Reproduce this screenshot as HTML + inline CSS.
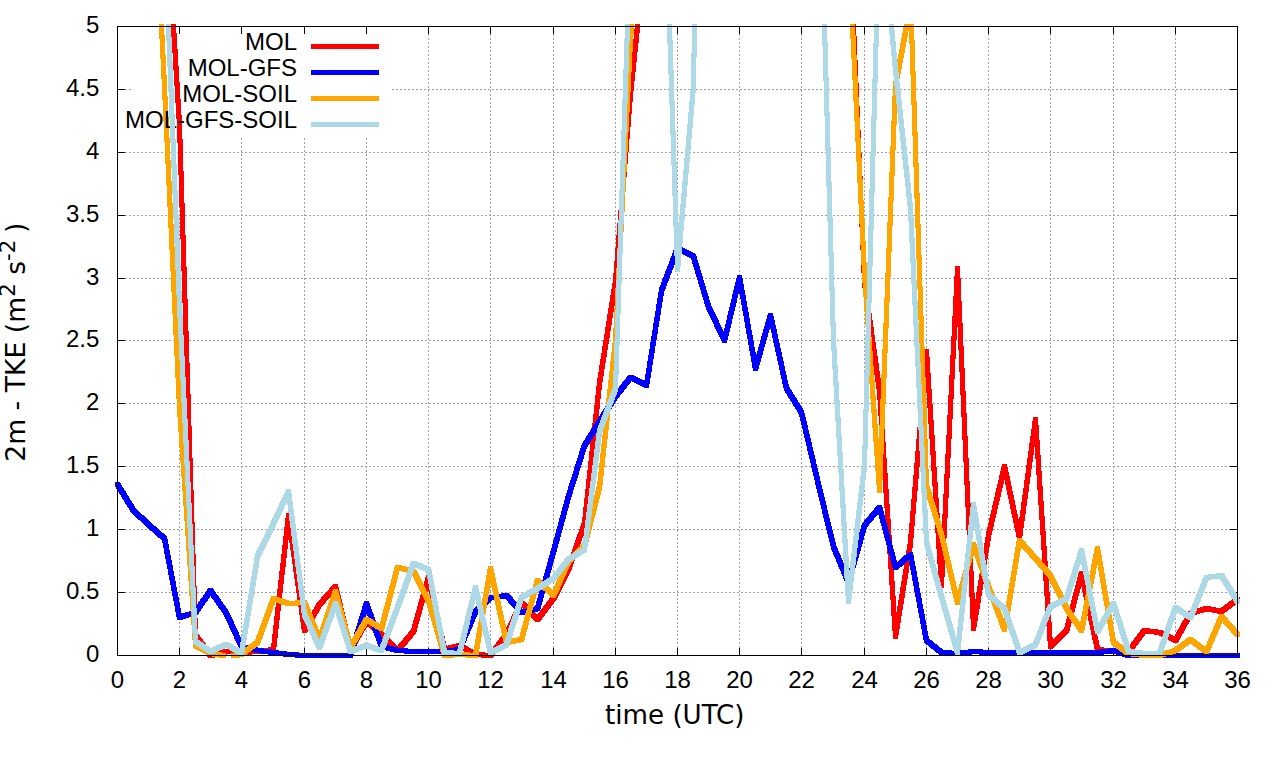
<!DOCTYPE html><html><head><meta charset="utf-8"><title>2m TKE</title>
<style>html,body{margin:0;padding:0;background:#fff}svg{display:block}body{font-family:"Liberation Sans",sans-serif}</style></head><body>
<svg width="1280" height="760" viewBox="0 0 1280 760">
<rect width="1280" height="760" fill="#fff"/>
<g stroke="#a0a0a0" stroke-width="1" stroke-dasharray="2 2" shape-rendering="crispEdges" fill="none">
<path d="M117 592.5H1238"/>
<path d="M117 529.5H1238"/>
<path d="M117 466.5H1238"/>
<path d="M117 403.5H1238"/>
<path d="M117 340.5H1238"/>
<path d="M117 278.5H1238"/>
<path d="M117 215.5H1238"/>
<path d="M117 152.5H1238"/>
<path d="M117 89.5H131"/>
<path d="M392 89.5H1238"/>
<path d="M179.5 656V138"/>
<path d="M241.5 656V138"/>
<path d="M304.5 656V138"/>
<path d="M366.5 656V138"/>
<path d="M428.5 656V26"/>
<path d="M490.5 656V26"/>
<path d="M553.5 656V26"/>
<path d="M615.5 656V26"/>
<path d="M677.5 656V26"/>
<path d="M739.5 656V26"/>
<path d="M801.5 656V26"/>
<path d="M864.5 656V26"/>
<path d="M926.5 656V26"/>
<path d="M988.5 656V26"/>
<path d="M1050.5 656V26"/>
<path d="M1113.5 656V26"/>
<path d="M1175.5 656V26"/>
</g>
<g fill="#000" shape-rendering="crispEdges">
<rect x="117" y="648" width="1" height="8"/>
<rect x="117" y="26" width="1" height="8"/>
<rect x="179" y="648" width="1" height="8"/>
<rect x="179" y="26" width="1" height="8"/>
<rect x="241" y="648" width="1" height="8"/>
<rect x="241" y="26" width="1" height="8"/>
<rect x="304" y="648" width="1" height="8"/>
<rect x="304" y="26" width="1" height="8"/>
<rect x="366" y="648" width="1" height="8"/>
<rect x="366" y="26" width="1" height="8"/>
<rect x="428" y="648" width="1" height="8"/>
<rect x="428" y="26" width="1" height="8"/>
<rect x="490" y="648" width="1" height="8"/>
<rect x="490" y="26" width="1" height="8"/>
<rect x="553" y="648" width="1" height="8"/>
<rect x="553" y="26" width="1" height="8"/>
<rect x="615" y="648" width="1" height="8"/>
<rect x="615" y="26" width="1" height="8"/>
<rect x="677" y="648" width="1" height="8"/>
<rect x="677" y="26" width="1" height="8"/>
<rect x="739" y="648" width="1" height="8"/>
<rect x="739" y="26" width="1" height="8"/>
<rect x="801" y="648" width="1" height="8"/>
<rect x="801" y="26" width="1" height="8"/>
<rect x="864" y="648" width="1" height="8"/>
<rect x="864" y="26" width="1" height="8"/>
<rect x="926" y="648" width="1" height="8"/>
<rect x="926" y="26" width="1" height="8"/>
<rect x="988" y="648" width="1" height="8"/>
<rect x="988" y="26" width="1" height="8"/>
<rect x="1050" y="648" width="1" height="8"/>
<rect x="1050" y="26" width="1" height="8"/>
<rect x="1113" y="648" width="1" height="8"/>
<rect x="1113" y="26" width="1" height="8"/>
<rect x="1175" y="648" width="1" height="8"/>
<rect x="1175" y="26" width="1" height="8"/>
<rect x="1237" y="648" width="1" height="8"/>
<rect x="1237" y="26" width="1" height="8"/>
<rect x="117" y="655" width="8" height="1"/>
<rect x="1230" y="655" width="8" height="1"/>
<rect x="117" y="592" width="8" height="1"/>
<rect x="1230" y="592" width="8" height="1"/>
<rect x="117" y="529" width="8" height="1"/>
<rect x="1230" y="529" width="8" height="1"/>
<rect x="117" y="466" width="8" height="1"/>
<rect x="1230" y="466" width="8" height="1"/>
<rect x="117" y="403" width="8" height="1"/>
<rect x="1230" y="403" width="8" height="1"/>
<rect x="117" y="340" width="8" height="1"/>
<rect x="1230" y="340" width="8" height="1"/>
<rect x="117" y="278" width="8" height="1"/>
<rect x="1230" y="278" width="8" height="1"/>
<rect x="117" y="215" width="8" height="1"/>
<rect x="1230" y="215" width="8" height="1"/>
<rect x="117" y="152" width="8" height="1"/>
<rect x="1230" y="152" width="8" height="1"/>
<rect x="117" y="89" width="8" height="1"/>
<rect x="1230" y="89" width="8" height="1"/>
<rect x="117" y="26" width="8" height="1"/>
<rect x="1230" y="26" width="8" height="1"/>
</g>
<text x="297" y="50" font-family="'Liberation Sans', sans-serif" font-size="24" fill="#000" text-anchor="end">MOL</text>
<path d="M171 24.5L176 24.5L182 123.5L182 127.5L177 127.5L171 28.5ZM177 123.5L182 123.5L198 633.5L198 637.5L193 637.5L177 127.5ZM193 633.5L198 633.5L213 653.5L213 657.5L208 657.5L193 637.5ZM208.5 653L224.5 649L228.5 649L228.5 654L212.5 658L208.5 658ZM224.5 649L228.5 649L243.5 650L243.5 655L239.5 655L224.5 654ZM239.5 650L255.5 649L259.5 649L259.5 654L243.5 655L239.5 655ZM255.5 649L271.5 647L275.5 647L275.5 652L259.5 654L255.5 654ZM271 647.5L286 513.5L291 513.5L291 517.5L276 651.5L271 651.5ZM286 513.5L291 513.5L307 628.5L307 632.5L302 632.5L286 517.5ZM302 628.5L317 602.5L322 602.5L322 606.5L307 632.5L302 632.5ZM317 602.5L333 584.5L338 584.5L338 588.5L322 606.5L317 606.5ZM333 584.5L338 584.5L353 647.5L353 651.5L348 651.5L333 588.5ZM348 647.5L364 619.5L369 619.5L369 623.5L353 651.5L348 651.5ZM364.5 619L368.5 619L383.5 632L383.5 637L379.5 637L364.5 624ZM379.5 632L383.5 632L399.5 648L399.5 653L395.5 653L379.5 637ZM395 648.5L411 629.5L416 629.5L416 633.5L400 652.5L395 652.5ZM411 629.5L426 575.5L431 575.5L431 579.5L416 633.5L411 633.5ZM426 575.5L431 575.5L447 647.5L447 651.5L442 651.5L426 579.5ZM442.5 647L457.5 643L461.5 643L461.5 648L446.5 652L442.5 652ZM457.5 643L461.5 643L477.5 652L477.5 657L473.5 657L457.5 648ZM473.5 652L477.5 652L492.5 653L492.5 658L488.5 658L473.5 657ZM488 653.5L504 632.5L509 632.5L509 636.5L493 657.5L488 657.5ZM504 632.5L519 600.5L524 600.5L524 604.5L509 636.5L504 636.5ZM519 600.5L524 600.5L540 617.5L540 621.5L535 621.5L519 604.5ZM535 617.5L551 596.5L556 596.5L556 600.5L540 621.5L535 621.5ZM551 596.5L566 567.5L571 567.5L571 571.5L556 600.5L551 600.5ZM566 567.5L582 521.5L587 521.5L587 525.5L571 571.5L566 571.5ZM582 521.5L597 381.5L602 381.5L602 385.5L587 525.5L582 525.5ZM597 381.5L613 279.5L618 279.5L618 283.5L602 385.5L597 385.5ZM613 279.5L628 91.5L633 91.5L633 95.5L618 283.5L613 283.5ZM628 91.5L635 24.5L640 24.5L640 28.5L633 95.5L628 95.5ZM851 24.5L856 24.5L867 280.5L867 284.5L862 284.5L851 28.5ZM862 280.5L867 280.5L882 388.5L882 392.5L877 392.5L862 284.5ZM877 388.5L882 388.5L898 634.5L898 638.5L893 638.5L877 392.5ZM893 634.5L908 540.5L913 540.5L913 544.5L898 638.5L893 638.5ZM908 540.5L924 349.5L929 349.5L929 353.5L913 544.5L908 544.5ZM924 349.5L929 349.5L944 583.5L944 587.5L939 587.5L924 353.5ZM939 583.5L955 266.5L960 266.5L960 270.5L944 587.5L939 587.5ZM955 266.5L960 266.5L976 626.5L976 630.5L971 630.5L955 270.5ZM971 626.5L986 533.5L991 533.5L991 537.5L976 630.5L971 630.5ZM986 533.5L1002 464.5L1007 464.5L1007 468.5L991 537.5L986 537.5ZM1002 464.5L1007 464.5L1022 535.5L1022 539.5L1017 539.5L1002 468.5ZM1017 535.5L1033 417.5L1038 417.5L1038 421.5L1022 539.5L1017 539.5ZM1033 417.5L1038 417.5L1053 644.5L1053 648.5L1048 648.5L1033 421.5ZM1048.5 644L1064.5 628L1068.5 628L1068.5 633L1052.5 649L1048.5 649ZM1064 628.5L1079 571.5L1084 571.5L1084 575.5L1069 632.5L1064 632.5ZM1079 571.5L1084 571.5L1100 647.5L1100 651.5L1095 651.5L1079 575.5ZM1095.5 647L1099.5 647L1115.5 649L1115.5 654L1111.5 654L1095.5 652ZM1111.5 649L1130.5 649L1130.5 654L1111.5 654ZM1126 649.5L1142 628.5L1147 628.5L1147 632.5L1131 653.5L1126 653.5ZM1142.5 628L1146.5 628L1161.5 630L1161.5 635L1157.5 635L1142.5 633ZM1157.5 630L1161.5 630L1177.5 638L1177.5 643L1173.5 643L1157.5 635ZM1173 638.5L1188 611.5L1193 611.5L1193 615.5L1178 642.5L1173 642.5ZM1188.5 611L1204.5 606L1208.5 606L1208.5 611L1192.5 616L1188.5 616ZM1204.5 606L1208.5 606L1223.5 609L1223.5 614L1219.5 614L1204.5 611ZM1219.5 609L1235.5 597L1239.5 597L1239.5 602L1223.5 614L1219.5 614ZM171 24h5v5h-5zM177 123h5v5h-5zM193 633h5v5h-5zM208 653h5v5h-5zM224 649h5v5h-5zM239 650h5v5h-5zM255 649h5v5h-5zM271 647h5v5h-5zM286 513h5v5h-5zM302 628h5v5h-5zM317 602h5v5h-5zM333 584h5v5h-5zM348 647h5v5h-5zM364 619h5v5h-5zM379 632h5v5h-5zM395 648h5v5h-5zM411 629h5v5h-5zM426 575h5v5h-5zM442 647h5v5h-5zM457 643h5v5h-5zM473 652h5v5h-5zM488 653h5v5h-5zM504 632h5v5h-5zM519 600h5v5h-5zM535 617h5v5h-5zM551 596h5v5h-5zM566 567h5v5h-5zM582 521h5v5h-5zM597 381h5v5h-5zM613 279h5v5h-5zM628 91h5v5h-5zM635 24h5v5h-5zM851 24h5v5h-5zM862 280h5v5h-5zM877 388h5v5h-5zM893 634h5v5h-5zM908 540h5v5h-5zM924 349h5v5h-5zM939 583h5v5h-5zM955 266h5v5h-5zM971 626h5v5h-5zM986 533h5v5h-5zM1002 464h5v5h-5zM1017 535h5v5h-5zM1033 417h5v5h-5zM1048 644h5v5h-5zM1064 628h5v5h-5zM1079 571h5v5h-5zM1095 647h5v5h-5zM1111 649h5v5h-5zM1126 649h5v5h-5zM1142 628h5v5h-5zM1157 630h5v5h-5zM1173 638h5v5h-5zM1188 611h5v5h-5zM1204 606h5v5h-5zM1219 609h5v5h-5zM1235 597h5v5h-5z" fill="#ff0000" fill-rule="nonzero" shape-rendering="crispEdges"/>
<rect x="311" y="44" width="68" height="5" fill="#ff0000" shape-rendering="crispEdges"/>
<text x="297" y="76" font-family="'Liberation Sans', sans-serif" font-size="24" fill="#000" text-anchor="end">MOL-GFS</text>
<path d="M115 482.5L120 482.5L136 508.5L136 512.5L131 512.5L115 486.5ZM131.5 508L135.5 508L150.5 522L150.5 527L146.5 527L131.5 513ZM146.5 522L150.5 522L166.5 536L166.5 541L162.5 541L146.5 527ZM162 536.5L167 536.5L182 615.5L182 619.5L177 619.5L162 540.5ZM177.5 615L193.5 610L197.5 610L197.5 615L181.5 620L177.5 620ZM193 610.5L208 588.5L213 588.5L213 592.5L198 614.5L193 614.5ZM208 588.5L213 588.5L229 611.5L229 615.5L224 615.5L208 592.5ZM224 611.5L229 611.5L244 644.5L244 648.5L239 648.5L224 615.5ZM239.5 644L243.5 644L259.5 648L259.5 653L255.5 653L239.5 649ZM255.5 648L259.5 648L275.5 650L275.5 655L271.5 655L255.5 653ZM271.5 650L275.5 650L290.5 652L290.5 657L286.5 657L271.5 655ZM286.5 652L290.5 652L306.5 653L306.5 658L302.5 658L286.5 657ZM302.5 653L321.5 653L321.5 658L302.5 658ZM317.5 653L337.5 653L337.5 658L317.5 658ZM333.5 653L352.5 653L352.5 658L333.5 658ZM348 653.5L364 601.5L369 601.5L369 605.5L353 657.5L348 657.5ZM364 601.5L369 601.5L384 644.5L384 648.5L379 648.5L364 605.5ZM379.5 644L383.5 644L399.5 648L399.5 653L395.5 653L379.5 649ZM395.5 648L399.5 648L415.5 649L415.5 654L411.5 654L395.5 653ZM411.5 649L430.5 649L430.5 654L411.5 654ZM426.5 649L446.5 649L446.5 654L426.5 654ZM442.5 649L457.5 647L461.5 647L461.5 652L446.5 654L442.5 654ZM457 647.5L473 609.5L478 609.5L478 613.5L462 651.5L457 651.5ZM473.5 609L488.5 595L492.5 595L492.5 600L477.5 614L473.5 614ZM488.5 595L504.5 593L508.5 593L508.5 598L492.5 600L488.5 600ZM504 593.5L509 593.5L524 610.5L524 614.5L519 614.5L504 597.5ZM519.5 610L535.5 606L539.5 606L539.5 611L523.5 615L519.5 615ZM535 606.5L551 549.5L556 549.5L556 553.5L540 610.5L535 610.5ZM551 549.5L566 494.5L571 494.5L571 498.5L556 553.5L551 553.5ZM566 494.5L582 443.5L587 443.5L587 447.5L571 498.5L566 498.5ZM582 443.5L597 419.5L602 419.5L602 423.5L587 447.5L582 447.5ZM597 419.5L613 394.5L618 394.5L618 398.5L602 423.5L597 423.5ZM613 394.5L628 375.5L633 375.5L633 379.5L618 398.5L613 398.5ZM628.5 375L632.5 375L648.5 383L648.5 388L644.5 388L628.5 380ZM644 383.5L659 288.5L664 288.5L664 292.5L649 387.5L644 387.5ZM659 288.5L675 246.5L680 246.5L680 250.5L664 292.5L659 292.5ZM675.5 246L679.5 246L695.5 254L695.5 259L691.5 259L675.5 251ZM691 254.5L696 254.5L711 304.5L711 308.5L706 308.5L691 258.5ZM706 304.5L711 304.5L727 338.5L727 342.5L722 342.5L706 308.5ZM722 338.5L737 275.5L742 275.5L742 279.5L727 342.5L722 342.5ZM737 275.5L742 275.5L758 366.5L758 370.5L753 370.5L737 279.5ZM753 366.5L768 313.5L773 313.5L773 317.5L758 370.5L753 370.5ZM768 313.5L773 313.5L789 386.5L789 390.5L784 390.5L768 317.5ZM784 386.5L789 386.5L804 410.5L804 414.5L799 414.5L784 390.5ZM799 410.5L804 410.5L820 478.5L820 482.5L815 482.5L799 414.5ZM815 478.5L820 478.5L836 544.5L836 548.5L831 548.5L815 482.5ZM831 544.5L836 544.5L851 580.5L851 584.5L846 584.5L831 548.5ZM846 580.5L862 523.5L867 523.5L867 527.5L851 584.5L846 584.5ZM862 523.5L877 505.5L882 505.5L882 509.5L867 527.5L862 527.5ZM877 505.5L882 505.5L898 565.5L898 569.5L893 569.5L877 509.5ZM893.5 565L908.5 552L912.5 552L912.5 557L897.5 570L893.5 570ZM908 552.5L913 552.5L929 638.5L929 642.5L924 642.5L908 556.5ZM924.5 638L928.5 638L943.5 650L943.5 655L939.5 655L924.5 643ZM939.5 650L943.5 650L959.5 651L959.5 656L955.5 656L939.5 655ZM955.5 651L971.5 649L975.5 649L975.5 654L959.5 656L955.5 656ZM971.5 649L975.5 649L990.5 650L990.5 655L986.5 655L971.5 654ZM986.5 650L1006.5 650L1006.5 655L986.5 655ZM1002.5 650L1021.5 650L1021.5 655L1002.5 655ZM1017.5 650L1037.5 650L1037.5 655L1017.5 655ZM1033.5 650L1052.5 650L1052.5 655L1033.5 655ZM1048.5 650L1068.5 650L1068.5 655L1048.5 655ZM1064.5 650L1083.5 650L1083.5 655L1064.5 655ZM1079.5 650L1099.5 650L1099.5 655L1079.5 655ZM1095.5 650L1111.5 648L1115.5 648L1115.5 653L1099.5 655L1095.5 655ZM1111.5 648L1115.5 648L1130.5 653L1130.5 658L1126.5 658L1111.5 653ZM1126.5 653L1146.5 653L1146.5 658L1126.5 658ZM1142.5 653L1161.5 653L1161.5 658L1142.5 658ZM1157.5 653L1177.5 653L1177.5 658L1157.5 658ZM1173.5 653L1192.5 653L1192.5 658L1173.5 658ZM1188.5 653L1208.5 653L1208.5 658L1188.5 658ZM1204.5 653L1223.5 653L1223.5 658L1204.5 658ZM1219.5 653L1239.5 653L1239.5 658L1219.5 658ZM115 482h5v5h-5zM131 508h5v5h-5zM146 522h5v5h-5zM162 536h5v5h-5zM177 615h5v5h-5zM193 610h5v5h-5zM208 588h5v5h-5zM224 611h5v5h-5zM239 644h5v5h-5zM255 648h5v5h-5zM271 650h5v5h-5zM286 652h5v5h-5zM302 653h5v5h-5zM317 653h5v5h-5zM333 653h5v5h-5zM348 653h5v5h-5zM364 601h5v5h-5zM379 644h5v5h-5zM395 648h5v5h-5zM411 649h5v5h-5zM426 649h5v5h-5zM442 649h5v5h-5zM457 647h5v5h-5zM473 609h5v5h-5zM488 595h5v5h-5zM504 593h5v5h-5zM519 610h5v5h-5zM535 606h5v5h-5zM551 549h5v5h-5zM566 494h5v5h-5zM582 443h5v5h-5zM597 419h5v5h-5zM613 394h5v5h-5zM628 375h5v5h-5zM644 383h5v5h-5zM659 288h5v5h-5zM675 246h5v5h-5zM691 254h5v5h-5zM706 304h5v5h-5zM722 338h5v5h-5zM737 275h5v5h-5zM753 366h5v5h-5zM768 313h5v5h-5zM784 386h5v5h-5zM799 410h5v5h-5zM815 478h5v5h-5zM831 544h5v5h-5zM846 580h5v5h-5zM862 523h5v5h-5zM877 505h5v5h-5zM893 565h5v5h-5zM908 552h5v5h-5zM924 638h5v5h-5zM939 650h5v5h-5zM955 651h5v5h-5zM971 649h5v5h-5zM986 650h5v5h-5zM1002 650h5v5h-5zM1017 650h5v5h-5zM1033 650h5v5h-5zM1048 650h5v5h-5zM1064 650h5v5h-5zM1079 650h5v5h-5zM1095 650h5v5h-5zM1111 648h5v5h-5zM1126 653h5v5h-5zM1142 653h5v5h-5zM1157 653h5v5h-5zM1173 653h5v5h-5zM1188 653h5v5h-5zM1204 653h5v5h-5zM1219 653h5v5h-5zM1235 653h5v5h-5z" fill="#0000ff" fill-rule="nonzero" shape-rendering="crispEdges"/>
<rect x="311" y="70" width="68" height="5" fill="#0000ff" shape-rendering="crispEdges"/>
<text x="297" y="102" font-family="'Liberation Sans', sans-serif" font-size="24" fill="#000" text-anchor="end">MOL-SOIL</text>
<path d="M159 24.5L164 24.5L167 84.5L167 88.5L162 88.5L159 28.5ZM162 84.5L167 84.5L182 405.5L182 409.5L177 409.5L162 88.5ZM177 405.5L182 405.5L198 643.5L198 647.5L193 647.5L177 409.5ZM193.5 643L197.5 643L212.5 651L212.5 656L208.5 656L193.5 648ZM208.5 651L212.5 651L225.5 653L225.5 658L221.5 658L208.5 656ZM231.5 653L239.5 652L243.5 652L243.5 657L235.5 658L231.5 658ZM239.5 652L255.5 640L259.5 640L259.5 645L243.5 657L239.5 657ZM255 640.5L271 596.5L276 596.5L276 600.5L260 644.5L255 644.5ZM271.5 596L275.5 596L290.5 601L290.5 606L286.5 606L271.5 601ZM286.5 601L302.5 600L306.5 600L306.5 605L290.5 606L286.5 606ZM302 600.5L307 600.5L322 637.5L322 641.5L317 641.5L302 604.5ZM317 637.5L333 589.5L338 589.5L338 593.5L322 641.5L317 641.5ZM333 589.5L338 589.5L353 645.5L353 649.5L348 649.5L333 593.5ZM348 645.5L364 617.5L369 617.5L369 621.5L353 649.5L348 649.5ZM364.5 617L368.5 617L383.5 626L383.5 631L379.5 631L364.5 622ZM379 626.5L395 565.5L400 565.5L400 569.5L384 630.5L379 630.5ZM395.5 565L399.5 565L415.5 569L415.5 574L411.5 574L395.5 570ZM411 569.5L416 569.5L431 598.5L431 602.5L426 602.5L411 573.5ZM426 598.5L431 598.5L447 653.5L447 657.5L442 657.5L426 602.5ZM442.5 653L457.5 652L461.5 652L461.5 657L446.5 658L442.5 658ZM457.5 652L461.5 652L477.5 653L477.5 658L473.5 658L457.5 657ZM473 653.5L488 566.5L493 566.5L493 570.5L478 657.5L473 657.5ZM488 566.5L493 566.5L509 640.5L509 644.5L504 644.5L488 570.5ZM504.5 640L519.5 637L523.5 637L523.5 642L508.5 645L504.5 645ZM519 637.5L535 578.5L540 578.5L540 582.5L524 641.5L519 641.5ZM535.5 578L539.5 578L555.5 593L555.5 598L551.5 598L535.5 583ZM551 593.5L566 559.5L571 559.5L571 563.5L556 597.5L551 597.5ZM566.5 559L582.5 543L586.5 543L586.5 548L570.5 564L566.5 564ZM582 543.5L597 485.5L602 485.5L602 489.5L587 547.5L582 547.5ZM597 485.5L613 338.5L618 338.5L618 342.5L602 489.5L597 489.5ZM613 338.5L628 38.5L633 38.5L633 42.5L618 342.5L613 342.5ZM628 38.5L629 24.5L634 24.5L634 28.5L633 42.5L628 42.5ZM850 24.5L855 24.5L867 271.5L867 275.5L862 275.5L850 28.5ZM862 271.5L867 271.5L882 488.5L882 492.5L877 492.5L862 275.5ZM877 488.5L893 83.5L898 83.5L898 87.5L882 492.5L877 492.5ZM893 83.5L904 24.5L909 24.5L909 28.5L898 87.5L893 87.5ZM909 24.5L914 24.5L929 484.5L929 488.5L924 488.5L909 28.5ZM924 484.5L929 484.5L944 532.5L944 536.5L939 536.5L924 488.5ZM939 532.5L944 532.5L960 600.5L960 604.5L955 604.5L939 536.5ZM955 600.5L971 542.5L976 542.5L976 546.5L960 604.5L955 604.5ZM971 542.5L976 542.5L991 584.5L991 588.5L986 588.5L971 546.5ZM986 584.5L991 584.5L1007 627.5L1007 631.5L1002 631.5L986 588.5ZM1002 627.5L1017 538.5L1022 538.5L1022 542.5L1007 631.5L1002 631.5ZM1017 538.5L1022 538.5L1038 556.5L1038 560.5L1033 560.5L1017 542.5ZM1033 556.5L1038 556.5L1053 573.5L1053 577.5L1048 577.5L1033 560.5ZM1048 573.5L1053 573.5L1069 606.5L1069 610.5L1064 610.5L1048 577.5ZM1064 606.5L1069 606.5L1084 628.5L1084 632.5L1079 632.5L1064 610.5ZM1079 628.5L1095 546.5L1100 546.5L1100 550.5L1084 632.5L1079 632.5ZM1095 546.5L1100 546.5L1116 640.5L1116 644.5L1111 644.5L1095 550.5ZM1111.5 640L1115.5 640L1130.5 651L1130.5 656L1126.5 656L1111.5 645ZM1126.5 651L1130.5 651L1146.5 653L1146.5 658L1142.5 658L1126.5 656ZM1142.5 653L1161.5 653L1161.5 658L1142.5 658ZM1157.5 653L1173.5 648L1177.5 648L1177.5 653L1161.5 658L1157.5 658ZM1173.5 648L1188.5 637L1192.5 637L1192.5 642L1177.5 653L1173.5 653ZM1188.5 637L1192.5 637L1208.5 649L1208.5 654L1204.5 654L1188.5 642ZM1204 649.5L1219 614.5L1224 614.5L1224 618.5L1209 653.5L1204 653.5ZM1219 614.5L1224 614.5L1240 632.5L1240 636.5L1235 636.5L1219 618.5ZM159 24h5v5h-5zM162 84h5v5h-5zM177 405h5v5h-5zM193 643h5v5h-5zM208 651h5v5h-5zM221 653h5v5h-5zM231 653h5v5h-5zM239 652h5v5h-5zM255 640h5v5h-5zM271 596h5v5h-5zM286 601h5v5h-5zM302 600h5v5h-5zM317 637h5v5h-5zM333 589h5v5h-5zM348 645h5v5h-5zM364 617h5v5h-5zM379 626h5v5h-5zM395 565h5v5h-5zM411 569h5v5h-5zM426 598h5v5h-5zM442 653h5v5h-5zM457 652h5v5h-5zM473 653h5v5h-5zM488 566h5v5h-5zM504 640h5v5h-5zM519 637h5v5h-5zM535 578h5v5h-5zM551 593h5v5h-5zM566 559h5v5h-5zM582 543h5v5h-5zM597 485h5v5h-5zM613 338h5v5h-5zM628 38h5v5h-5zM629 24h5v5h-5zM850 24h5v5h-5zM862 271h5v5h-5zM877 488h5v5h-5zM893 83h5v5h-5zM904 24h5v5h-5zM909 24h5v5h-5zM924 484h5v5h-5zM939 532h5v5h-5zM955 600h5v5h-5zM971 542h5v5h-5zM986 584h5v5h-5zM1002 627h5v5h-5zM1017 538h5v5h-5zM1033 556h5v5h-5zM1048 573h5v5h-5zM1064 606h5v5h-5zM1079 628h5v5h-5zM1095 546h5v5h-5zM1111 640h5v5h-5zM1126 651h5v5h-5zM1142 653h5v5h-5zM1157 653h5v5h-5zM1173 648h5v5h-5zM1188 637h5v5h-5zM1204 649h5v5h-5zM1219 614h5v5h-5zM1235 632h5v5h-5z" fill="#ffa500" fill-rule="nonzero" shape-rendering="crispEdges"/>
<rect x="311" y="96" width="68" height="5" fill="#ffa500" shape-rendering="crispEdges"/>
<text x="297" y="128" font-family="'Liberation Sans', sans-serif" font-size="24" fill="#000" text-anchor="end">MOL-GFS-SOIL</text>
<path d="M166 24.5L171 24.5L182 303.5L182 307.5L177 307.5L166 28.5ZM177 303.5L182 303.5L198 639.5L198 643.5L193 643.5L177 307.5ZM193.5 639L197.5 639L212.5 649L212.5 654L208.5 654L193.5 644ZM208.5 649L224.5 642L228.5 642L228.5 647L212.5 654L208.5 654ZM224.5 642L228.5 642L243.5 651L243.5 656L239.5 656L224.5 647ZM239 651.5L255 554.5L260 554.5L260 558.5L244 655.5L239 655.5ZM255 554.5L271 521.5L276 521.5L276 525.5L260 558.5L255 558.5ZM271 521.5L286 489.5L291 489.5L291 493.5L276 525.5L271 525.5ZM286 489.5L291 489.5L307 612.5L307 616.5L302 616.5L286 493.5ZM302 612.5L307 612.5L322 645.5L322 649.5L317 649.5L302 616.5ZM317 645.5L333 601.5L338 601.5L338 605.5L322 649.5L317 649.5ZM333 601.5L338 601.5L353 649.5L353 653.5L348 653.5L333 605.5ZM348.5 649L364.5 643L368.5 643L368.5 648L352.5 654L348.5 654ZM364.5 643L368.5 643L383.5 648L383.5 653L379.5 653L364.5 648ZM379 648.5L395 605.5L400 605.5L400 609.5L384 652.5L379 652.5ZM395 605.5L411 561.5L416 561.5L416 565.5L400 609.5L395 609.5ZM411.5 561L415.5 561L430.5 567L430.5 572L426.5 572L411.5 566ZM426 567.5L431 567.5L447 650.5L447 654.5L442 654.5L426 571.5ZM442.5 650L446.5 650L461.5 651L461.5 656L457.5 656L442.5 655ZM457 651.5L473 585.5L478 585.5L478 589.5L462 655.5L457 655.5ZM473 585.5L478 585.5L493 650.5L493 654.5L488 654.5L473 589.5ZM488.5 650L504.5 642L508.5 642L508.5 647L492.5 655L488.5 655ZM504 642.5L519 595.5L524 595.5L524 599.5L509 646.5L504 646.5ZM519.5 595L535.5 586L539.5 586L539.5 591L523.5 600L519.5 600ZM535.5 586L551.5 576L555.5 576L555.5 581L539.5 591L535.5 591ZM551 576.5L566 557.5L571 557.5L571 561.5L556 580.5L551 580.5ZM566.5 557L582.5 547L586.5 547L586.5 552L570.5 562L566.5 562ZM582 547.5L597 429.5L602 429.5L602 433.5L587 551.5L582 551.5ZM597 429.5L613 386.5L618 386.5L618 390.5L602 433.5L597 433.5ZM613 386.5L625 24.5L630 24.5L630 28.5L618 390.5L613 390.5ZM667 24.5L672 24.5L680 267.5L680 271.5L675 271.5L667 28.5ZM675 267.5L691 83.5L696 83.5L696 87.5L680 271.5L675 271.5ZM691 83.5L692 24.5L697 24.5L697 28.5L696 87.5L691 87.5ZM822 24.5L827 24.5L836 338.5L836 342.5L831 342.5L822 28.5ZM831 338.5L836 338.5L851 599.5L851 603.5L846 603.5L831 342.5ZM846 599.5L862 463.5L867 463.5L867 467.5L851 603.5L846 603.5ZM862 463.5L874 24.5L879 24.5L879 28.5L867 467.5L862 467.5ZM889 24.5L894 24.5L898 67.5L898 71.5L893 71.5L889 28.5ZM893 67.5L898 67.5L913 206.5L913 210.5L908 210.5L893 71.5ZM908 206.5L913 206.5L929 540.5L929 544.5L924 544.5L908 210.5ZM924 540.5L929 540.5L944 594.5L944 598.5L939 598.5L924 544.5ZM939 594.5L944 594.5L960 650.5L960 654.5L955 654.5L939 598.5ZM955 650.5L971 502.5L976 502.5L976 506.5L960 654.5L955 654.5ZM971 502.5L976 502.5L991 592.5L991 596.5L986 596.5L971 506.5ZM986.5 592L990.5 592L1006.5 606L1006.5 611L1002.5 611L986.5 597ZM1002 606.5L1007 606.5L1022 650.5L1022 654.5L1017 654.5L1002 610.5ZM1017.5 650L1033.5 642L1037.5 642L1037.5 647L1021.5 655L1017.5 655ZM1033 642.5L1048 604.5L1053 604.5L1053 608.5L1038 646.5L1033 646.5ZM1048.5 604L1064.5 596L1068.5 596L1068.5 601L1052.5 609L1048.5 609ZM1064 596.5L1079 548.5L1084 548.5L1084 552.5L1069 600.5L1064 600.5ZM1079 548.5L1084 548.5L1100 629.5L1100 633.5L1095 633.5L1079 552.5ZM1095 629.5L1111 601.5L1116 601.5L1116 605.5L1100 633.5L1095 633.5ZM1111 601.5L1116 601.5L1131 649.5L1131 653.5L1126 653.5L1111 605.5ZM1126.5 649L1130.5 649L1146.5 651L1146.5 656L1142.5 656L1126.5 654ZM1142.5 651L1161.5 651L1161.5 656L1142.5 656ZM1157 651.5L1173 605.5L1178 605.5L1178 609.5L1162 655.5L1157 655.5ZM1173.5 605L1177.5 605L1192.5 615L1192.5 620L1188.5 620L1173.5 610ZM1188 615.5L1204 575.5L1209 575.5L1209 579.5L1193 619.5L1188 619.5ZM1204.5 575L1219.5 573L1223.5 573L1223.5 578L1208.5 580L1204.5 580ZM1219 573.5L1224 573.5L1240 599.5L1240 603.5L1235 603.5L1219 577.5ZM166 24h5v5h-5zM177 303h5v5h-5zM193 639h5v5h-5zM208 649h5v5h-5zM224 642h5v5h-5zM239 651h5v5h-5zM255 554h5v5h-5zM271 521h5v5h-5zM286 489h5v5h-5zM302 612h5v5h-5zM317 645h5v5h-5zM333 601h5v5h-5zM348 649h5v5h-5zM364 643h5v5h-5zM379 648h5v5h-5zM395 605h5v5h-5zM411 561h5v5h-5zM426 567h5v5h-5zM442 650h5v5h-5zM457 651h5v5h-5zM473 585h5v5h-5zM488 650h5v5h-5zM504 642h5v5h-5zM519 595h5v5h-5zM535 586h5v5h-5zM551 576h5v5h-5zM566 557h5v5h-5zM582 547h5v5h-5zM597 429h5v5h-5zM613 386h5v5h-5zM625 24h5v5h-5zM667 24h5v5h-5zM675 267h5v5h-5zM691 83h5v5h-5zM692 24h5v5h-5zM822 24h5v5h-5zM831 338h5v5h-5zM846 599h5v5h-5zM862 463h5v5h-5zM874 24h5v5h-5zM889 24h5v5h-5zM893 67h5v5h-5zM908 206h5v5h-5zM924 540h5v5h-5zM939 594h5v5h-5zM955 650h5v5h-5zM971 502h5v5h-5zM986 592h5v5h-5zM1002 606h5v5h-5zM1017 650h5v5h-5zM1033 642h5v5h-5zM1048 604h5v5h-5zM1064 596h5v5h-5zM1079 548h5v5h-5zM1095 629h5v5h-5zM1111 601h5v5h-5zM1126 649h5v5h-5zM1142 651h5v5h-5zM1157 651h5v5h-5zM1173 605h5v5h-5zM1188 615h5v5h-5zM1204 575h5v5h-5zM1219 573h5v5h-5zM1235 599h5v5h-5z" fill="#add8e6" fill-rule="nonzero" shape-rendering="crispEdges"/>
<rect x="311" y="122" width="68" height="5" fill="#add8e6" shape-rendering="crispEdges"/>
<g fill="#000" shape-rendering="crispEdges">
<rect x="117" y="26" width="1121" height="1"/>
<rect x="117" y="655" width="1121" height="1"/>
<rect x="117" y="26" width="1" height="630"/>
<rect x="1237" y="26" width="1" height="630"/>
</g>
<g font-family="'Liberation Sans', sans-serif" font-size="24" fill="#000" text-anchor="middle">
<text x="117.5" y="687.8">0</text>
<text x="179.5" y="687.8">2</text>
<text x="241.5" y="687.8">4</text>
<text x="304.5" y="687.8">6</text>
<text x="366.5" y="687.8">8</text>
<text x="428.5" y="687.8">10</text>
<text x="490.5" y="687.8">12</text>
<text x="553.5" y="687.8">14</text>
<text x="615.5" y="687.8">16</text>
<text x="677.5" y="687.8">18</text>
<text x="739.5" y="687.8">20</text>
<text x="801.5" y="687.8">22</text>
<text x="864.5" y="687.8">24</text>
<text x="926.5" y="687.8">26</text>
<text x="988.5" y="687.8">28</text>
<text x="1050.5" y="687.8">30</text>
<text x="1113.5" y="687.8">32</text>
<text x="1175.5" y="687.8">34</text>
<text x="1237.5" y="687.8">36</text>
</g>
<g font-family="'Liberation Sans', sans-serif" font-size="24" fill="#000" text-anchor="end">
<text x="99.25" y="661.9">0</text>
<text x="99.25" y="598.9">0.5</text>
<text x="99.25" y="535.9">1</text>
<text x="99.25" y="472.9">1.5</text>
<text x="99.25" y="409.9">2</text>
<text x="99.25" y="346.9">2.5</text>
<text x="99.25" y="284.9">3</text>
<text x="99.25" y="221.9">3.5</text>
<text x="99.25" y="158.9">4</text>
<text x="99.25" y="95.9">4.5</text>
<text x="99.25" y="32.9">5</text>
</g>
<text transform="translate(605.06,723.8) scale(0.98,1)" font-family="'DejaVu Sans', 'Liberation Sans', sans-serif" font-size="26.67" fill="#000">time (UTC)</text>
<text transform="translate(25.3,461.8) rotate(-90)" font-family="'DejaVu Sans', 'Liberation Sans', sans-serif" font-size="26.67" fill="#000">2m - TKE (m<tspan dy="-10.3" font-size="21.3">2</tspan><tspan dy="10.3"> s</tspan><tspan dy="-10.3" font-size="21.3">-2 </tspan><tspan dy="10.3">)</tspan></text>
</svg></body></html>
